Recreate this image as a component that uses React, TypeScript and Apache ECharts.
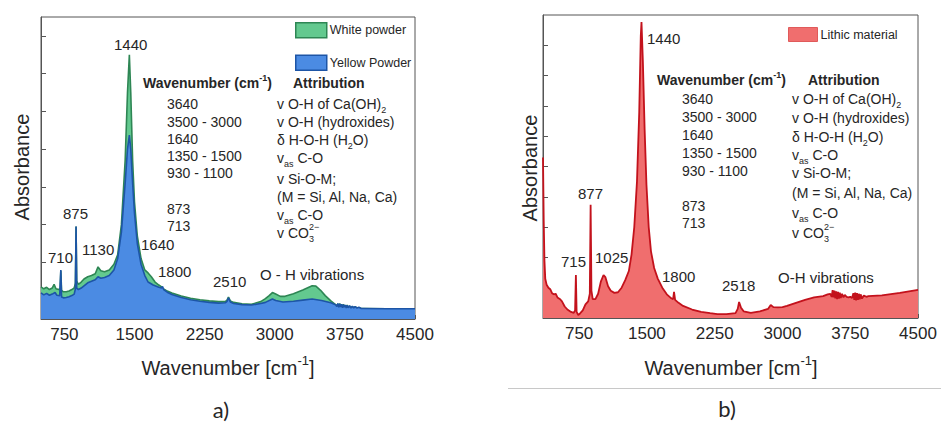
import React, { useEffect, useRef } from "react";
import * as echarts from "echarts";

// ---------- Data ----------
const whiteWavenumber = [500,530,560,590,620,640,660,690,705,712,720,740,770,800,830,855,868,875,882,900,930,960,1000,1040,1080,1110,1140,1180,1230,1280,1320,1360,1400,1425,1445,1460,1480,1500,1530,1570,1610,1645,1680,1720,1760,1790,1800,1812,1850,1900,2000,2100,2200,2300,2400,2470,2490,2505,2525,2560,2650,2750,2850,2900,2940,2975,3010,3060,3110,3200,3300,3400,3440,3490,3540,3600,3650,3665,3675,3685,3695,3705,3715,3725,3735,3745,3755,3765,3775,3785,3800,3815,3830,3845,3860,3880,3900,3925,3950,4200,4500];
const whiteAbsorbance = [0.85,0.80,0.84,0.78,0.82,0.92,0.80,0.78,0.80,1.28,0.76,0.72,0.72,0.74,0.78,0.82,0.95,2.45,1.0,0.92,0.98,1.06,1.12,1.15,1.20,1.38,1.28,1.25,1.30,1.45,1.7,2.5,4.2,6.0,7.0,6.0,4.2,3.1,2.2,1.6,1.3,1.22,1.12,0.98,0.90,0.85,0.82,0.80,0.74,0.69,0.61,0.55,0.51,0.48,0.46,0.46,0.50,0.58,0.48,0.44,0.40,0.39,0.46,0.54,0.62,0.70,0.66,0.60,0.60,0.67,0.77,0.88,0.87,0.76,0.62,0.48,0.38,0.34,0.40,0.32,0.41,0.31,0.38,0.31,0.39,0.30,0.36,0.30,0.37,0.29,0.34,0.30,0.33,0.30,0.32,0.30,0.30,0.28,0.28,0.27,0.27];

const yellowWavenumber = [500,530,560,590,620,650,670,700,712,720,740,770,800,830,855,868,875,882,900,930,960,1000,1040,1080,1110,1140,1180,1230,1280,1320,1360,1400,1425,1445,1460,1480,1500,1530,1570,1610,1645,1700,1760,1790,1800,1812,1850,1900,2000,2100,2200,2300,2400,2470,2490,2505,2525,2560,2650,2750,2850,2900,2975,3010,3088,3200,3300,3400,3500,3600,3650,3665,3675,3685,3695,3705,3715,3725,3735,3745,3755,3765,3775,3785,3800,3815,3830,3845,3860,3880,3900,3925,3950,4200,4500];
const yellowAbsorbance = [0.69,0.64,0.68,0.63,0.66,0.70,0.63,0.62,1.30,0.58,0.56,0.57,0.59,0.62,0.66,0.80,2.45,0.82,0.78,0.82,0.88,0.96,1.00,1.04,1.12,1.08,1.10,1.15,1.30,1.6,2.3,3.6,4.5,4.87,4.5,3.6,2.8,2.0,1.45,1.15,0.98,0.90,0.84,0.82,0.86,0.78,0.71,0.65,0.57,0.51,0.47,0.44,0.42,0.43,0.47,0.56,0.45,0.41,0.38,0.37,0.41,0.44,0.53,0.49,0.45,0.47,0.50,0.53,0.49,0.43,0.38,0.33,0.41,0.31,0.40,0.32,0.39,0.30,0.38,0.31,0.37,0.29,0.36,0.30,0.35,0.29,0.34,0.29,0.33,0.29,0.31,0.28,0.28,0.27,0.27];

const lithicWavenumber = [350,358,366,375,390,410,430,450,470,490,510,540,560,590,620,660,690,705,714,722,740,760,790,820,850,868,877,886,900,930,960,990,1020,1040,1070,1100,1140,1180,1220,1260,1300,1330,1360,1390,1415,1432,1440,1455,1475,1495,1520,1545,1580,1620,1670,1720,1770,1790,1800,1812,1850,1900,2000,2100,2200,2280,2380,2480,2505,2520,2540,2570,2650,2750,2840,2870,2900,2950,3000,3050,3150,3250,3350,3450,3500,3530,3545,3555,3565,3575,3585,3595,3605,3615,3625,3635,3645,3660,3675,3690,3710,3730,3750,3770,3785,3795,3805,3815,3825,3835,3845,3855,3865,3880,3900,3930,3950,4100,4300,4500];
const lithicAbsorbance = [5.3,3.2,1.9,1.3,1.1,1.0,0.95,0.82,0.78,0.80,0.68,0.62,0.55,0.38,0.28,0.20,0.17,0.25,1.42,0.20,0.10,0.15,0.25,0.45,0.55,0.8,3.74,0.9,0.62,0.62,0.80,1.20,1.42,1.35,1.05,0.90,0.83,0.85,1.0,1.25,1.55,2.1,3.0,4.5,6.8,9.3,9.77,8.5,6.2,4.4,3.0,2.2,1.65,1.3,1.0,0.78,0.65,0.62,0.86,0.60,0.50,0.40,0.28,0.20,0.16,0.13,0.13,0.16,0.30,0.53,0.35,0.22,0.17,0.22,0.30,0.43,0.36,0.35,0.36,0.40,0.50,0.60,0.68,0.72,0.78,0.80,0.70,0.92,0.68,0.90,0.65,0.88,0.62,0.86,0.64,0.84,0.66,0.80,0.68,0.76,0.70,0.68,0.70,0.66,0.82,0.60,0.84,0.58,0.82,0.60,0.80,0.62,0.78,0.64,0.74,0.70,0.72,0.75,0.83,0.93];

const xTickLabels = [750, 1500, 2250, 3000, 3750, 4500];
const xTickMarks = [750, 1125, 1500, 1875, 2250, 2625, 3000, 3375, 3750, 4125, 4500];
const yTicksA = [0.5, 1.5, 2.5, 3.5, 4.5, 5.5, 6.5, 7.5];
const yTicksB = [1, 2, 3, 4, 5, 6, 7, 8, 9];

const tableWavenumbers = ["3640", "3500 - 3000", "1640", "1350 - 1500", "930 - 1100", "873", "713"];

// ---------- Style ----------
const FONT = "'Liberation Sans', Arial, Helvetica, sans-serif";
const TXT = "#262626";
const AXIS = "#555";
const GREEN_FILL = "#63c98f";
const GREEN_LINE = "#2e8654";
const BLUE_FILL = "#4b8be3";
const BLUE_LINE = "#1d55a6";
const RED_FILL = "#f06e6e";
const RED_LINE = "#c3121c";

const zip = (xs: number[], ys: number[]) => xs.map((x, i) => [x, ys[i]]);

const rich = {
  n: { fontSize: 14, lineHeight: 20, fontFamily: FONT, fill: TXT },
  s: { fontSize: 9, lineHeight: 10, fontFamily: FONT, fill: TXT, verticalAlign: "bottom" },
  p: { fontSize: 9, lineHeight: 10, fontFamily: FONT, fill: TXT, verticalAlign: "top" },
  b: { fontSize: 14, lineHeight: 20, fontFamily: FONT, fill: TXT, fontWeight: "bold" },
  bp: { fontSize: 9, lineHeight: 10, fontFamily: FONT, fill: TXT, fontWeight: "bold", verticalAlign: "top" },
  t: { fontSize: 20, lineHeight: 28, fontFamily: FONT, fill: TXT },
  tp: { fontSize: 13, lineHeight: 14, fontFamily: FONT, fill: TXT, verticalAlign: "top" },
};

function txt(x: number, y: number, text: string, extra: any = {}) {
  return {
    type: "text",
    x,
    y,
    z: 100,
    silent: true,
    rotation: extra.rotation || 0,
    style: {
      text,
      fontSize: extra.fontSize || 14,
      fontFamily: extra.fontFamily || FONT,
      fontWeight: extra.fontWeight || "normal",
      fill: TXT,
      align: extra.align || "left",
      verticalAlign: "middle",
      rich,
    },
  };
}

function table(x0: number, x1: number, x2: number, x3: number, yh: number, rows1: number[], rows2: number[]) {
  const els: any[] = [];
  els.push(txt(x0, yh, "{b|Wavenumber (cm}{bp|-1}{b|)}"));
  els.push(txt(x3, yh, "Attribution", { fontWeight: "bold" }));
  tableWavenumbers.forEach((w, i) => els.push(txt(x1, rows1[i], w)));
  els.push(txt(x2, rows2[0], "{n|v O-H of Ca(OH)}{s|2}"));
  els.push(txt(x2, rows2[1], "v O-H (hydroxides)"));
  els.push(txt(x2, rows2[2], "{n|δ H-O-H (H}{s|2}{n|O)}"));
  els.push(txt(x2, rows2[3], "{n|v}{s|as}{n| C-O}"));
  els.push(txt(x2, rows2[4], "v Si-O-M;"));
  els.push(txt(x2, rows2[5], "(M = Si, Al, Na, Ca)"));
  els.push(txt(x2, rows2[6], "{n|v}{s|as}{n| C-O}"));
  els.push(txt(x2, rows2[7], "{n|v CO}{s|3}"));
  els.push(txt(x2 + 32, rows2[7] - 6, "2−", { fontSize: 9 }));
  return els;
}

function buildOption() {
  const xAxisCommon = (gridIndex: number, min: number) => ({
    gridIndex,
    type: "value",
    min,
    max: 4500,
    axisLine: { show: true, lineStyle: { color: AXIS, width: 1 } },
    axisTick: { show: true, inside: true, length: 4, customValues: xTickMarks, lineStyle: { color: AXIS } },
    axisLabel: {
      customValues: xTickLabels,
      fontSize: 17,
      color: TXT,
      fontFamily: FONT,
      margin: 7,
      formatter: (v: number) => String(v),
    },
    splitLine: { show: false },
  });
  const yAxisCommon = (gridIndex: number, max: number, ticks: number[]) => ({
    gridIndex,
    type: "value",
    min: 0,
    max,
    axisLine: { show: true, lineStyle: { color: AXIS, width: 1 } },
    axisTick: { show: true, inside: true, length: 5, customValues: ticks, lineStyle: { color: AXIS } },
    axisLabel: { show: false },
    splitLine: { show: false },
  });

  const graphics: any[] = [
    // panel a
    txt(114, 44, "1440", { fontSize: 15 }),
    txt(63, 213, "875", { fontSize: 15 }),
    txt(48, 257, "710", { fontSize: 15 }),
    txt(82, 249, "1130", { fontSize: 15 }),
    txt(141, 244, "1640", { fontSize: 15 }),
    txt(158, 271, "1800", { fontSize: 15 }),
    txt(213, 281, "2510", { fontSize: 15 }),
    txt(260, 274, "O - H vibrations", { fontSize: 15 }),
    ...table(143, 167, 277, 293, 83, [104, 122, 139, 156, 173, 209, 226], [104, 122, 140, 158, 179, 197, 215, 233]),
    txt(228, 368, "{t|Wavenumber [cm}{tp|-1}{t|]}", { align: "center" }),
    txt(22, 167, "Absorbance", { fontSize: 20, align: "center", rotation: Math.PI / 2 }),
    txt(221, 409, "a)", { fontSize: 22, align: "center", fontFamily: "Lato, 'Open Sans', sans-serif" }),
    // panel b
    txt(647, 38, "1440", { fontSize: 15 }),
    txt(578, 193, "877", { fontSize: 15 }),
    txt(561, 261, "715", { fontSize: 15 }),
    txt(595, 257, "1025", { fontSize: 15 }),
    txt(662, 276, "1800", { fontSize: 15 }),
    txt(722, 285, "2518", { fontSize: 15 }),
    txt(778, 277, "O-H vibrations", { fontSize: 15 }),
    ...table(657, 682, 792, 808, 80, [99, 117, 135, 153, 171, 206, 223], [99, 118, 137, 155, 173, 193, 213, 233]),
    txt(731, 368, "{t|Wavenumber [cm}{tp|-1}{t|]}", { align: "center" }),
    txt(530, 168, "Absorbance", { fontSize: 20, align: "center", rotation: Math.PI / 2 }),
    txt(727, 408, "b)", { fontSize: 22, align: "center", fontFamily: "Lato, 'Open Sans', sans-serif" }),
    {
      type: "line",
      z: 100,
      silent: true,
      shape: { x1: 508, y1: 388.5, x2: 941, y2: 388.5 },
      style: { stroke: "#c8c8c8", lineWidth: 1 },
    },
  ];

  return {
    animation: false,
    backgroundColor: "#ffffff",
    grid: [
      { left: 41, top: 17, width: 374, height: 302, show: true, borderColor: AXIS, borderWidth: 1, backgroundColor: "transparent" },
      { left: 543, top: 15, width: 375, height: 303, show: true, borderColor: AXIS, borderWidth: 1, backgroundColor: "transparent" },
    ],
    xAxis: [xAxisCommon(0, 500), xAxisCommon(1, 350)],
    yAxis: [yAxisCommon(0, 8, yTicksA), yAxisCommon(1, 10, yTicksB)],
    legend: [
      {
        left: 295,
        top: 22,
        padding: 0,
        orient: "vertical",
        itemWidth: 31,
        itemHeight: 15,
        itemGap: 16,
        textStyle: { fontSize: 12.5, color: TXT, fontFamily: FONT, padding: [0, 0, 0, -2] },
        data: [
          { name: "White powder", icon: "rect", itemStyle: { color: GREEN_FILL, borderColor: GREEN_LINE, borderWidth: 1.5 } },
          { name: "Yellow Powder", icon: "rect", itemStyle: { color: BLUE_FILL, borderColor: BLUE_LINE, borderWidth: 1.5 } },
        ],
      },
      {
        left: 788,
        top: 27,
        padding: 0,
        itemWidth: 29,
        itemHeight: 14,
        textStyle: { fontSize: 12.5, color: TXT, fontFamily: FONT, padding: [0, 0, 0, -2] },
        data: [{ name: "Lithic material", icon: "rect", itemStyle: { color: RED_FILL, borderColor: "#e05a5a", borderWidth: 1 } }],
      },
    ],
    series: [
      {
        name: "White powder",
        type: "line",
        xAxisIndex: 0,
        yAxisIndex: 0,
        data: zip(whiteWavenumber, whiteAbsorbance),
        showSymbol: false,
        symbol: "none",
        z: 2,
        itemStyle: { color: GREEN_FILL },
        lineStyle: { color: GREEN_LINE, width: 1.6 },
        areaStyle: { color: GREEN_FILL, opacity: 1 },
      },
      {
        name: "Yellow Powder",
        type: "line",
        xAxisIndex: 0,
        yAxisIndex: 0,
        data: zip(yellowWavenumber, yellowAbsorbance),
        showSymbol: false,
        symbol: "none",
        z: 3,
        itemStyle: { color: BLUE_FILL },
        lineStyle: { color: BLUE_LINE, width: 1.6 },
        areaStyle: { color: BLUE_FILL, opacity: 1 },
      },
      {
        name: "Lithic material",
        type: "line",
        xAxisIndex: 1,
        yAxisIndex: 1,
        data: zip(lithicWavenumber, lithicAbsorbance),
        showSymbol: false,
        symbol: "none",
        z: 2,
        itemStyle: { color: RED_FILL },
        lineStyle: { color: RED_LINE, width: 1.8 },
        areaStyle: { color: RED_FILL, opacity: 1 },
      },
    ],
    graphic: { elements: graphics },
  };
}

export default function App() {
  const ref = useRef<HTMLDivElement>(null);
  useEffect(() => {
    if (!ref.current) return;
    const chart = echarts.init(ref.current, null, { renderer: "svg" });
    chart.setOption(buildOption() as any);
    return () => chart.dispose();
  }, []);
  return (
    <div
      ref={ref}
      style={{ position: "fixed", left: 0, top: 0, width: 941, height: 422, background: "#fff" }}
    />
  );
}
